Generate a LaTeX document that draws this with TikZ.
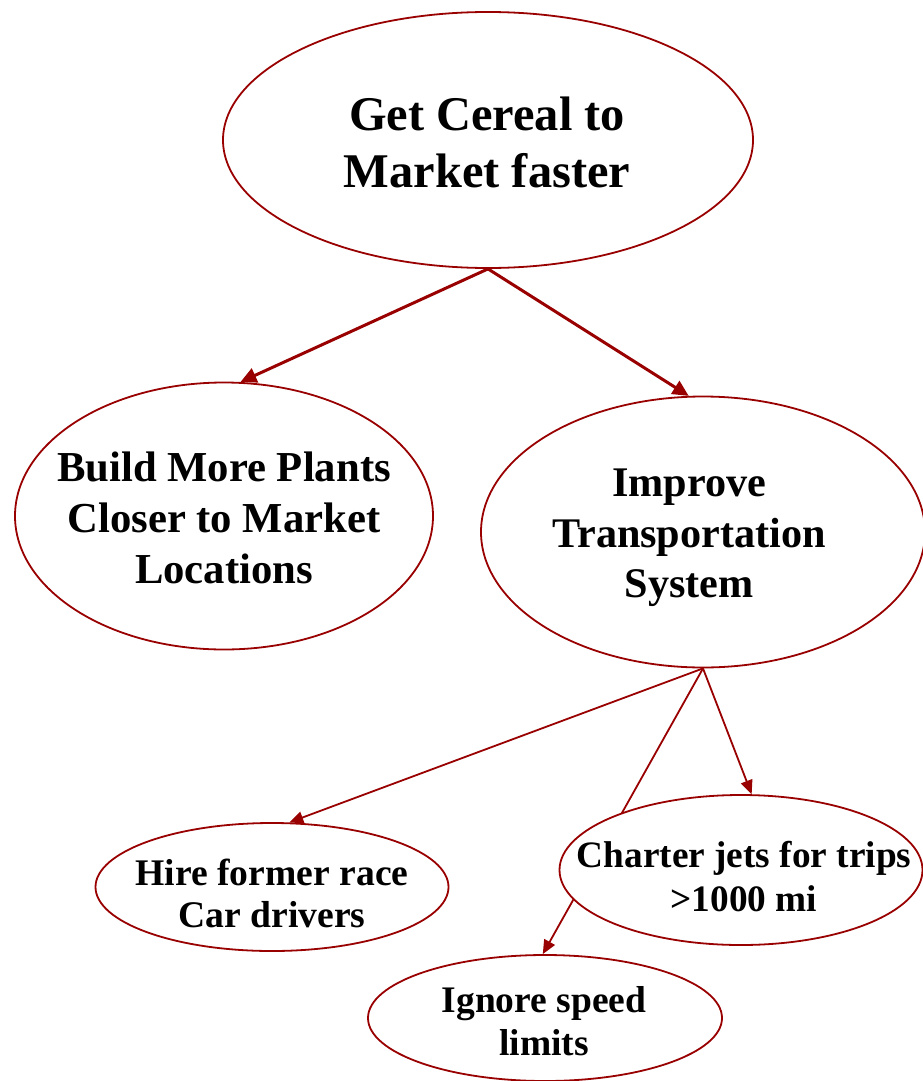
\documentclass[tikz,border=0pt]{standalone}
\usepackage{fontspec}
\setmainfont{Liberation Serif}
\usetikzlibrary{shapes.geometric,arrows.meta,backgrounds}
\definecolor{dred}{RGB}{153,0,0}
\tikzset{
  oval/.style={ellipse, draw=dred, line width=1.8pt, fill=white, inner sep=-60pt, align=center, font=\bfseries},
  txt/.style={align=center, inner sep=0pt},
  bigarrow/.style={draw=dred, line width=3pt, -{Triangle[length=16pt,width=15pt]}, dred},
  smallarrow/.style={draw=dred, line width=1.8pt, -{Triangle[length=14pt,width=12pt]}, dred},
}
\begin{document}
\begin{tikzpicture}[x=1pt,y=-1pt]
\useasboundingbox (0,0) rectangle (923,1081);
\node[oval, minimum width=530pt, minimum height=256pt] (top) at (488,140) {};
\node[oval, minimum width=418pt, minimum height=267pt] (build) at (224,516) {};
\node[oval, minimum width=444pt, minimum height=271pt] (improve) at (703,532) {};
\node[oval, minimum width=353pt, minimum height=128pt] (hire) at (272,887) {};
\node[oval, minimum width=363pt, minimum height=150pt] (charter) at (741,870) {};
\node[oval, minimum width=354pt, minimum height=126pt] (ignore) at (545,1018) {};
\node[txt, font=\bfseries\fontsize{48.4}{57}\selectfont] (toptext) at (487,142) {Get Cereal to\\Market faster};
\node[txt, font=\bfseries\fontsize{42.7}{51}\selectfont] (buildtext) at (224,518) {Build More Plants\\Closer to Market\\Locations};
\node[txt, font=\bfseries\fontsize{42.2}{50.5}\selectfont] (improvetext) at (689,538) {Improve\\Transportation\\System};
\node[txt, font=\bfseries\fontsize{37.6}{42}\selectfont] (hiretext) at (272,893) {Hire former race\\Car drivers};
\node[txt, font=\bfseries\fontsize{37.3}{44}\selectfont] (chartertext) at (744,877) {Charter jets for trips\\>1000 mi};
\node[txt, font=\bfseries\fontsize{37.5}{43}\selectfont] (ignoretext) at (544,1021) {Ignore speed\\limits};
\begin{pgfonlayer}{background}
\draw[bigarrow] (top.south) -- (build.83);
\draw[bigarrow] (top.south) -- (improve.96);
\draw[smallarrow] (improve.south) -- (hire.75);
\draw[smallarrow] (improve.south) -- (charter.82);
\draw[smallarrow] (improve.south) -- (ignore.92);
\end{pgfonlayer}
\end{tikzpicture}
\end{document}
